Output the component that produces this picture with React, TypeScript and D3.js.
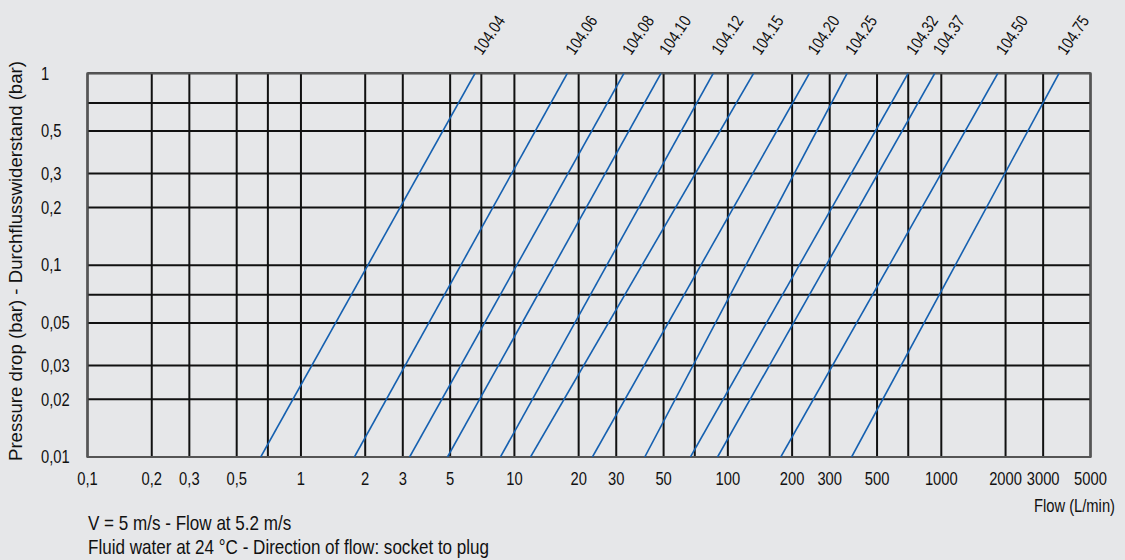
import * as d3 from 'd3';
import React from 'react';

// fitting series: flow (L/min) where each line meets 0,01 bar and 1 bar
const fittings = ['104.04', '104.06', '104.08', '104.10', '104.12', '104.15', '104.20', '104.25', '104.32', '104.37', '104.50', '104.75'];
const flowAtLow = [0.648, 1.78, 3.23, 4.86, 8.6, 11.9, 23.2, 40.8, 66.8, 89.5, 177, 380];
const flowAtHigh = [6.54, 17.7, 32.6, 48.6, 85.4, 132, 241, 362, 699, 932, 1840, 3560];

const gridFlow = [0.1, 0.2, 0.3, 0.5, 0.7, 1, 2, 3, 5, 7, 10, 20, 30, 50, 70, 100, 200, 300, 500, 700, 1000, 2000, 3000, 5000];
const gridDrop = [0.01, 0.02, 0.03, 0.05, 0.07, 0.1, 0.2, 0.3, 0.5, 0.7, 1];
const flowTicks = [0.1, 0.2, 0.3, 0.5, 1, 2, 3, 5, 10, 20, 30, 50, 100, 200, 300, 500, 1000, 2000, 3000, 5000];
const dropTicks = [0.01, 0.02, 0.03, 0.05, 0.1, 0.2, 0.3, 0.5, 1];

const width = 1125;
const height = 560;
const margin = { top: 73.3, right: 34.5, bottom: 103, left: 87.5 };
const font = "'Liberation Sans', Arial, sans-serif";
// no narrow face is installed, so squeeze the regular one like Arial Narrow
const narrow = 'scale(0.82,1)';

const App: React.FC = () => {
  const x = d3.scaleLog().domain([0.1, 5000]).range([margin.left, width - margin.right]);
  const y = d3.scaleLog().domain([0.01, 1]).range([height - margin.bottom, margin.top]);
  const fmt = d3.formatLocale({ decimal: ',', thousands: '', grouping: [3], currency: ['', ''] }).format('~g');

  const line = d3.line<[number, number]>()
    .x(d => x(d[0]))
    .y(d => y(d[1]));

  const [x0, x1] = x.range();
  const [y0, y1] = y.range();

  return (
    <svg width={width} height={height} style={{ position: 'absolute', left: 0, top: 0, background: '#e6e7e9' }}
      fontFamily={font}>
      <defs>
        <clipPath id="plot">
          <rect x={x0} y={y1} width={x1 - x0} height={y0 - y1} />
        </clipPath>
      </defs>

      {/* grid */}
      <g stroke="#111" strokeWidth={2}>
        {gridFlow.map(v => (
          <line key={'v' + v} x1={x(v)} x2={x(v)} y1={y0} y2={y1} />
        ))}
        {gridDrop.map(v => (
          <line key={'h' + v} x1={x0} x2={x1} y1={y(v)} y2={y(v)} />
        ))}
      </g>
      <rect x={x0} y={y1} width={x1 - x0} height={y0 - y1} fill="none" stroke="#555" strokeWidth={2} />

      {/* fitting lines */}
      <g clipPath="url(#plot)" fill="none" stroke="#1560b0" strokeWidth={1.6}>
        {fittings.map((f, i) => (
          <path key={f} d={line([[flowAtLow[i], 0.01], [flowAtHigh[i], 1]]) || ''} />
        ))}
      </g>

      {/* fitting labels */}
      <g fontSize={17} fill="#111">
        {fittings.map((f, i) => (
          <text key={f} transform={`translate(${x(flowAtHigh[i]) + 7},56) rotate(-56) ${narrow}`}>{f}</text>
        ))}
      </g>

      {/* x tick labels */}
      <g fontSize={18} fill="#111" textAnchor="middle">
        {flowTicks.map(v => (
          <text key={v} transform={`translate(${x(v)},485) ${narrow}`}>{fmt(v)}</text>
        ))}
      </g>
      {/* y tick labels */}
      <g fontSize={18} fill="#111">
        {dropTicks.map(v => (
          <text key={v} transform={`translate(41,${y(v)}) ${narrow}`} dy="0.35em">{fmt(v)}</text>
        ))}
      </g>

      <text transform={`translate(1115,512) ${narrow}`} fontSize={18} textAnchor="end" fill="#111">Flow (L/min)</text>
      <text transform="translate(22,461) rotate(-90)" fontSize={18.6} fill="#111">
        Pressure drop (bar) - Durchflusswiderstand (bar)
      </text>

      <g fontSize={20.8} fill="#111">
        <text transform={`translate(88,530) ${narrow}`}>V = 5 m/s - Flow at 5.2 m/s</text>
        <text transform={`translate(88,554) ${narrow}`}>Fluid water at 24 °C - Direction of flow: socket to plug</text>
      </g>
    </svg>
  );
};

export default App;
